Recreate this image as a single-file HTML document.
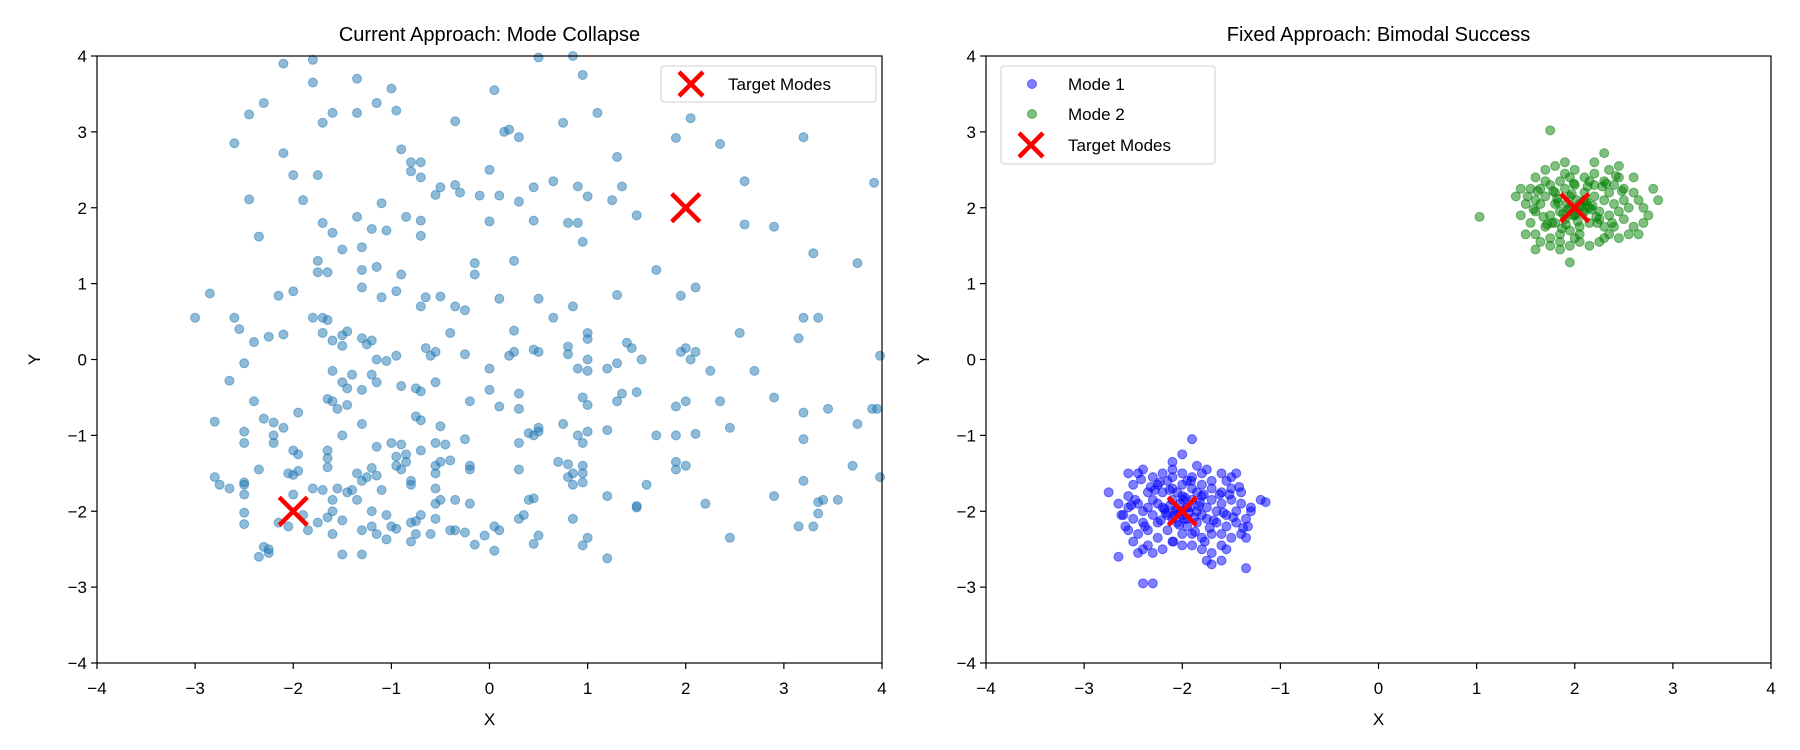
<!DOCTYPE html>
<html><head><meta charset="utf-8"><style>
html,body{margin:0;padding:0;background:#fff;}
svg{display:block;font-family:"Liberation Sans","DejaVu Sans",sans-serif;}
</style></head><body>
<svg id="fig" width="1800" height="750" viewBox="0 0 1800 750" xmlns="http://www.w3.org/2000/svg"></svg>
<script>
const leftX=[-2.1,-1.8,-1.8,-1.35,-1,0.05,0.5,0.85,0.95,-2.3,-2.45,-1.6,-1.35,-1.15,-0.95,-1.7,-0.35,0.75,1.1,2.05,0.15,0.2,0.3,1.9,2.35,3.2,-2.6,-0.9,1.3,-2.1,-0.8,-0.7,-0.8,-0.7,0,-2,-1.75,-0.5,-0.35,-0.3,-0.55,0.45,0.65,0.9,1.35,2.6,-2.45,-1.9,-1.1,-0.85,-0.7,-0.1,0.1,0.3,1,1.25,1.5,-1.7,-1.35,-1.2,-1.6,-1.05,-0.7,0,0.45,0.8,0.9,0.95,2.6,2.9,-2.35,-1.5,-1.3,0.25,-1.75,-1.75,-1.65,-1.3,-1.15,-0.9,-0.15,-0.15,1.7,3.3,3.75,-2.85,-2.15,-2,-1.3,-1.1,-0.95,-0.65,-0.7,-0.5,-0.35,-0.25,0.1,0.5,0.85,1.3,1.95,2.1,-3,-2.6,-2.55,-1.8,-1.7,-1.65,-0.4,0.25,0.65,1,3.15,3.2,3.35,-2.25,-2.1,-1.7,-1.5,-1.45,-1.3,-1.2,-2.4,-1.6,-1.5,-1.25,-0.65,-0.55,0.25,0.45,0.8,1,1.4,1.45,2,2.1,2.55,-1.15,-1.05,-0.95,-0.6,-0.25,0.2,0.5,0.8,1,1.3,1.55,1.95,2.05,2.25,2.7,-2.5,-1.6,-1.5,-1.4,-1.2,-1.15,-0.9,-0.55,0,0.9,1,1.2,-2.65,-1.45,-1.3,-0.75,-0.7,-0.2,0,0.3,0.95,1,1.35,1.5,2,2.35,2.9,3.2,3.45,3.9,-2.4,-1.65,-1.6,-1.45,-1.55,0.1,0.3,1.3,1.9,-2.8,-2.3,-2.2,-2.1,-1.95,-0.75,-0.7,-0.5,-1.3,0.5,0.75,1,1.2,2.45,3.75,-2.5,-2.2,-1.5,0.4,0.45,0.5,0.9,1.7,1.9,2.1,3.2,3.95,-2.5,-2.2,-1.15,-1,-0.9,-0.85,-0.95,-0.7,-0.55,-0.45,-0.25,0.3,0.95,-2,-1.95,-1.65,-1.65,-0.85,-0.55,-0.5,-0.4,-0.2,-2.35,-2.05,-1.95,-1.65,-1.35,-1.2,-0.95,-0.9,-0.55,-0.2,0.3,0.7,0.8,0.85,0.95,0.95,1.9,1.9,2,3.7,3.98,-2.8,-2.75,-2.65,-2.5,-2.5,-2,-1.8,-1.7,-1.55,-1.4,-1.25,-1.15,-1.3,-1.1,-0.8,-0.8,-0.55,0.8,0.95,0.85,1.6,3.2,2.9,-2.5,-2,-1.6,-1.6,-1.45,-1.35,-0.5,-0.55,-0.35,-0.2,0.4,0.45,1.2,1.5,1.5,2.2,3.35,3.4,3.55,3.35,-2.5,-1.9,-1.65,-1.2,-1.05,-0.7,-0.75,-0.55,0.05,0.35,0.3,-2.5,-2.15,-1.75,-1.5,-1.2,-1,-0.95,-0.8,-0.35,-0.25,-0.05,0.1,0.85,1,3.15,3.3,-2.05,-1.85,-1.6,-1.3,-1.15,-1.05,-0.8,-0.6,-0.15,0.05,0.45,0.5,0.95,1.2,2.45,-2.3,-2.25,-2.35,-2.25,-1.5,-1.3,-0.75,-0.4,3.98,3.92];
const leftY=[3.9,3.95,3.65,3.7,3.57,3.55,3.98,4,3.75,3.38,3.23,3.25,3.25,3.38,3.28,3.12,3.14,3.12,3.25,3.18,3,3.03,2.93,2.92,2.84,2.93,2.85,2.77,2.67,2.72,2.6,2.6,2.48,2.4,2.5,2.43,2.43,2.27,2.3,2.2,2.17,2.27,2.35,2.28,2.28,2.35,2.11,2.1,2.06,1.88,1.83,2.16,2.16,2.08,2.15,2.1,1.9,1.8,1.88,1.72,1.67,1.7,1.63,1.82,1.83,1.8,1.8,1.55,1.78,1.75,1.62,1.45,1.48,1.3,1.3,1.15,1.15,1.18,1.22,1.12,1.27,1.12,1.18,1.4,1.27,0.87,0.84,0.9,0.95,0.82,0.9,0.82,0.7,0.83,0.7,0.65,0.8,0.8,0.7,0.85,0.84,0.95,0.55,0.55,0.4,0.55,0.55,0.52,0.35,0.38,0.55,0.35,0.28,0.55,0.55,0.3,0.33,0.35,0.32,0.37,0.28,0.25,0.23,0.25,0.18,0.2,0.15,0.1,0.1,0.13,0.17,0.27,0.22,0.15,0.15,0.1,0.35,0,-0.02,0.05,0.05,0.07,0.05,0.1,0.07,0,-0.05,0,0.1,0,-0.15,-0.15,-0.05,-0.15,-0.3,-0.2,-0.2,-0.3,-0.35,-0.3,-0.12,-0.12,-0.15,-0.12,-0.28,-0.38,-0.4,-0.38,-0.42,-0.55,-0.4,-0.45,-0.5,-0.6,-0.45,-0.43,-0.55,-0.55,-0.5,-0.7,-0.65,-0.65,-0.55,-0.52,-0.55,-0.6,-0.65,-0.62,-0.65,-0.55,-0.62,-0.82,-0.78,-0.83,-0.9,-0.7,-0.75,-0.8,-0.88,-0.85,-0.9,-0.85,-0.95,-0.93,-0.9,-0.85,-0.95,-1,-1,-0.97,-1,-0.95,-1,-1,-1,-0.98,-1.05,-0.65,-1.1,-1.1,-1.15,-1.1,-1.12,-1.25,-1.28,-1.2,-1.1,-1.12,-1.05,-1.1,-1.1,-1.2,-1.25,-1.2,-1.3,-1.35,-1.4,-1.35,-1.33,-1.45,-1.45,-1.5,-1.47,-1.42,-1.5,-1.43,-1.4,-1.45,-1.5,-1.4,-1.45,-1.35,-1.38,-1.5,-1.5,-1.4,-1.35,-1.45,-1.4,-1.4,-1.55,-1.55,-1.65,-1.7,-1.62,-1.65,-1.52,-1.7,-1.72,-1.7,-1.72,-1.55,-1.53,-1.6,-1.72,-1.6,-1.65,-1.7,-1.55,-1.62,-1.65,-1.65,-1.6,-1.8,-1.78,-1.78,-1.85,-2,-1.75,-1.85,-1.85,-1.9,-1.85,-1.9,-1.85,-1.83,-1.8,-1.93,-1.95,-1.9,-1.88,-1.85,-1.85,-2.03,-2.02,-2.05,-2.08,-2,-2.05,-2.05,-2.13,-2.1,-2.2,-2.05,-2.1,-2.17,-2.15,-2.15,-2.12,-2.2,-2.2,-2.23,-2.15,-2.25,-2.28,-2.32,-2.25,-2.1,-2.35,-2.2,-2.2,-2.2,-2.25,-2.3,-2.25,-2.3,-2.37,-2.4,-2.3,-2.44,-2.52,-2.43,-2.32,-2.45,-2.62,-2.35,-2.47,-2.5,-2.6,-2.55,-2.57,-2.57,-2.3,-2.25,0.05,2.33];
const mode1X=[-2.45,-2.4,-2.3,-2.5,-2.55,-2.45,-2.35,-2.25,-2.2,-2.1,-2,-1.9,-1.8,-1.7,-1.6,-1.55,-1.45,-1.5,-1.6,-1.7,-1.8,-1.9,-2,-2.1,-2.2,-2.3,-2.4,-2.6,-2.62,-2.5,-2.4,-2.3,-2.2,-2.1,-2,-1.9,-1.8,-1.7,-1.6,-1.5,-1.4,-1.3,-1.45,-1.55,-1.65,-1.75,-1.85,-1.95,-2.05,-2.15,-2.25,-2.35,-2.45,-2.5,-2.35,-2.25,-2.15,-2.05,-1.95,-1.85,-1.75,-1.65,-1.55,-1.45,-1.4,-1.5,-1.6,-1.7,-1.8,-1.9,-2,-2.1,-2.2,-2.3,-2.4,-2,-1.9,-1.8,-1.7,-1.75,-1.7,-1.6,-1.55,-2.45,-2.15,-1.95,-1.85,-2.05,-2.25,-2,-1.8,-2.1,-1.95,-2.35,-2.55,-1.35,-1.3,-1.4,-1.5,-2.65,-1.6,-2.55,-2.1,-1.85,-1.75,-2.75,-2.65,-2.4,-2.3,-1.9,-2,-2.1,-1.35,-1.2,-1.15,-1.35,-2.55,-2.02,-1.98,-1.92,-2.08,-2.12,-1.88,-2.18,-1.82,-2.22,-1.78,-2.28,-1.72,-1.97,-2.03,-1.93,-2.07,-2.13,-1.87,-2.17,-1.83,-2.32,-1.68,-1.62,-2.38,-1.58,-2.42,-1.52,-2.48,-1.48,-1.42,-1.38,-2.52,-2.58,-1.33,-2.01,-1.99,-1.91,-2.09,-1.77,-2.23];
const mode1Y=[-1.5,-1.45,-1.55,-1.65,-1.8,-1.9,-1.75,-1.65,-1.5,-1.55,-1.5,-1.55,-1.5,-1.6,-1.5,-1.6,-1.5,-1.7,-1.75,-1.7,-1.65,-1.7,-1.65,-1.7,-1.75,-1.85,-2,-2.05,-2.05,-2.1,-2.15,-2.05,-1.95,-1.85,-1.8,-1.85,-1.8,-1.85,-1.9,-1.85,-1.9,-1.95,-2,-2.05,-2,-1.95,-2,-1.95,-2,-2.05,-2.15,-2.25,-2.3,-2.4,-2.45,-2.35,-2.25,-2.15,-2.1,-2.15,-2.1,-2.15,-2.2,-2.15,-2.3,-2.35,-2.3,-2.3,-2.35,-2.3,-2.3,-2.4,-2.5,-2.55,-2.5,-2.45,-2.45,-2.5,-2.55,-2.65,-2.7,-2.65,-2.5,-2.55,-1.6,-1.6,-1.75,-1.75,-1.9,-2.05,-2.05,-2.1,-2.2,-1.95,-1.95,-2.1,-2,-1.75,-1.55,-1.9,-2.45,-2.25,-1.45,-1.4,-1.45,-1.75,-2.6,-2.95,-2.95,-1.05,-1.25,-1.35,-2.75,-1.85,-1.88,-2.35,-1.5,-1.9,-2.1,-1.95,-2.05,-1.92,-2.08,-1.97,-1.88,-2.12,-1.78,-1.72,-2.22,-1.82,-2.18,-2.02,-1.98,-1.72,-2.27,-2.02,-1.93,-1.68,-2.12,-1.78,-2.2,-2.02,-1.58,-1.78,-1.85,-2.08,-1.68,-2.22,-1.92,-2.2,-2.2,-2.0,-1.85,-1.6,-2.4,-2.4,-1.62];
const mode2X=[1.55,1.6,1.7,1.8,1.9,2,2.1,2.2,2.3,2.4,2.5,2.6,2.65,2.55,2.45,2.35,2.25,2.15,2.05,1.95,1.85,1.75,1.65,1.6,1.55,1.6,1.65,1.7,1.8,1.9,2,2.1,2.2,2.3,2.4,2.5,2.6,2.55,2.45,2.35,2.25,2.15,2.05,1.95,1.85,1.75,1.7,1.75,1.85,1.95,2.05,2.15,2.25,2.35,2.45,1.85,1.75,1.65,1.5,1.45,1.5,1.6,2,1.9,1.8,2.1,2.2,1.95,2.05,2.3,2.7,2.75,2.6,2.2,1.9,1.7,1.6,2.4,2.5,1.8,2.1,2,1.85,2.35,1.45,1.4,2.65,2.3,2.15,1.95,1.03,1.75,1.95,2.85,2.8,2.3,2.45,2.7,2.02,1.98,1.92,2.08,2.12,1.88,2.18,1.82,2.22,1.78,2.28,1.72,1.97,2.03,1.93,2.07,2.13,1.87,2.17,1.83,2.32,1.68,1.62,2.38,1.58,2.42,2.48,1.52,2.01,1.99,1.91,2.09,1.77,2.23];
const mode2Y=[2.25,2.4,2.5,2.55,2.45,2.5,2.4,2.45,2.35,2.3,2.25,2.2,2.1,2,1.95,1.9,1.85,1.8,1.75,1.7,1.65,1.6,1.55,1.65,1.8,1.95,2.05,2.15,2.2,2.25,2.3,2.2,2.15,2.1,2.05,1.85,1.75,1.65,1.6,1.65,1.55,1.5,1.55,1.5,1.45,1.5,1.75,1.9,1.95,2,2.05,2,1.95,2.2,2.4,2.35,2.3,2.25,2.05,1.9,1.65,1.45,1.9,1.85,1.8,1.95,2.3,2.15,1.65,1.75,2,1.9,2.4,2.6,2.6,2.35,2.1,1.75,2.1,2.05,2.1,1.6,1.55,2.5,2.25,2.15,1.65,1.6,2.35,2.4,1.88,3.02,1.28,2.1,2.25,2.72,2.55,1.8,2.1,1.9,2.05,1.95,2.08,1.92,2.03,2.12,1.88,2.22,2.28,1.78,2.18,1.82,1.98,2.02,2.28,1.73,1.98,2.07,2.32,1.88,2.22,1.8,1.98,2.42,2.22,2.15,1.92,2.32,1.78,2.08,1.8,1.8];
const targetX=[-2,2];
const targetY=[-2,2];
const ticks=[-4,-3,-2,-1,0,1,2,3,4];

const NS="http://www.w3.org/2000/svg";
const svg=document.getElementById('fig');
function mk(tag,attrs,parent){const e=document.createElementNS(NS,tag);for(const k in attrs)e.setAttribute(k,attrs[k]);(parent||svg).appendChild(e);return e;}
const T=56,B=663;
function makeAxes(x0,x1,name,title){
  const g=mk('g',{});
  
  
  const sx=v=>x0+(v+4)/8*(x1-x0);
  const sy=v=>B-(v+4)/8*(B-T);
  const t=mk('text',{x:(x0+x1)/2,y:41,'text-anchor':'middle','font-size':20,fill:'#000'},g);
  t.textContent=title;
  
  
  ticks.forEach(v=>{
    mk('line',{x1:sx(v),x2:sx(v),y1:B,y2:B+6,stroke:'#000','stroke-width':1.2},g);
    const lx=mk('text',{x:sx(v),y:694,'text-anchor':'middle','font-size':17},g);
    lx.textContent=v<0?'\u2212'+(-v):String(v);
    
    
    mk('line',{x1:x0-6,x2:x0,y1:sy(v),y2:sy(v),stroke:'#000','stroke-width':1.2},g);
    const ly=mk('text',{x:x0-10,y:sy(v)+6,'text-anchor':'end','font-size':17},g);
    ly.textContent=v<0?'\u2212'+(-v):String(v);
    
    
  });
  const xl=mk('text',{x:(x0+x1)/2,y:725,'text-anchor':'middle','font-size':17},g);
  xl.textContent='X';
  
  
  const yl=mk('text',{x:0,y:0,'text-anchor':'middle','font-size':17,transform:`translate(${x0-57},${(T+B)/2}) rotate(-90)`},g);
  yl.textContent='Y';
  
  
  return {g,sx,sy,x0,x1};
}
function scatter(ax,xs,ys,color,name){
  const g=mk('g',{},ax.g);
  
  
  xs.forEach((x,i)=>{
    const c=mk('circle',{cx:ax.sx(x),cy:ax.sy(ys[i]),r:4.5,fill:color,'fill-opacity':0.5,stroke:color,'stroke-opacity':0.5,'stroke-width':1},g);
    
    
  });
}
function cross(parent,cx,cy,h){
  const g=mk('g',{},parent);
  
  
  mk('path',{d:`M${cx-h} ${cy-h}L${cx+h} ${cy+h}M${cx-h} ${cy+h}L${cx+h} ${cy-h}`,stroke:'#ff0000','stroke-width':4.5},g);
}
function frame(ax){
  mk('rect',{x:ax.x0,y:T,width:ax.x1-ax.x0,height:B-T,fill:'none',stroke:'#000','stroke-width':1.2},ax.g);
}
function legend(ax,x,y,w,h,entries){
  const g=mk('g',{},ax.g);
  
  
  mk('rect',{x,y,width:w,height:h,rx:3,fill:'#fff','fill-opacity':0.8,stroke:'#d0d0d0','stroke-width':1},g);
  entries.forEach((e,i)=>{
    const cy=e.y;
    const eg=mk('g',{},g);
    
    
    if(e.type==='x') cross(eg,x+30,cy,12);
    else mk('circle',{cx:x+31,cy:cy,r:4.5,fill:e.color,'fill-opacity':0.5,stroke:e.color,'stroke-opacity':0.5},eg);
    const t=mk('text',{x:x+67,y:cy+6,'font-size':17},eg);
    t.textContent=e.label;
  });
}

const axL=makeAxes(97,882,'left-axes','Current Approach: Mode Collapse');
scatter(axL,leftX,leftY,'#1f77b4','generated-samples');
targetX.forEach((x,i)=>cross(axL.g,axL.sx(x),axL.sy(targetY[i]),14));
frame(axL);
legend(axL,661,66,215,36,[{type:'x',label:'Target Modes',y:84}]);

const axR=makeAxes(986,1771,'right-axes','Fixed Approach: Bimodal Success');
scatter(axR,mode1X,mode1Y,'#0000ff','mode-1-samples');
scatter(axR,mode2X,mode2Y,'#008000','mode-2-samples');
targetX.forEach((x,i)=>cross(axR.g,axR.sx(x),axR.sy(targetY[i]),14));
frame(axR);
legend(axR,1001,66,214,98,[{type:'c',color:'#0000ff',label:'Mode 1',y:84},{type:'c',color:'#008000',label:'Mode 2',y:114},{type:'x',label:'Target Modes',y:145}]);
</script>
</body></html>
